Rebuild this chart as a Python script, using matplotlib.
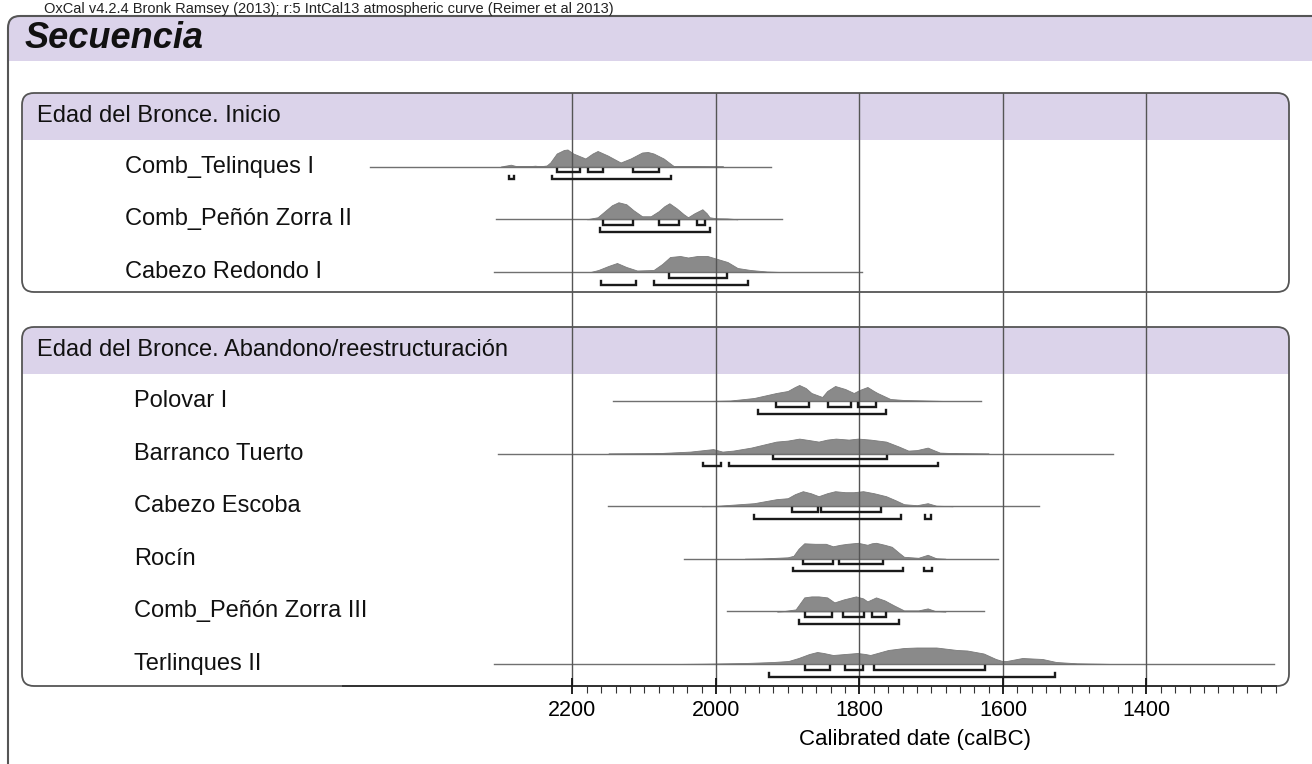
import numpy as np
import matplotlib
matplotlib.use('Agg')
import matplotlib.pyplot as plt
from matplotlib.patches import FancyBboxPatch, Rectangle

plt.rcParams['font.family'] = ['Liberation Sans', 'DejaVu Sans']

# ---- data (calBC) ----
header_text = "OxCal v4.2.4 Bronk Ramsey (2013); r:5 IntCal13 atmospheric curve (Reimer et al 2013)"
title = "Secuencia"
group_titles = ["Edad del Bronce. Inicio", "Edad del Bronce. Abandono/reestructuración"]
group_sizes = [3, 6]

row_names = ["Comb_Telinques I", "Comb_Peñón Zorra II", "Cabezo Redondo I",
             "Polovar I", "Barranco Tuerto", "Cabezo Escoba", "Rocín",
             "Comb_Peñón Zorra III", "Terlinques II"]

row_spans = [(2482, 1923), (2306, 1908), (2310, 1796),
             (2144, 1631), (2304, 1446), (2150, 1550), (2045, 1607),
             (1985, 1627), (2309, 1222)]

dens_years = [
    [2300, 2292, 2286, 2279, 2262, 2252, 2245, 2236, 2231, 2222, 2212, 2207, 2199, 2182, 2172, 2165,
     2151, 2133, 2119, 2103, 2095, 2087, 2073, 2062, 2059, 2040, 1990],
    [2180, 2165, 2155, 2145, 2136, 2125, 2115, 2103, 2091, 2080, 2072, 2065, 2055, 2045, 2039, 2030,
     2019, 2013, 2009, 2000, 1984, 1970],
    [2175, 2164, 2150, 2138, 2125, 2110, 2087, 2075, 2064, 2050, 2039, 2026, 2012, 1998, 1984, 1970,
     1952, 1929, 1910],
    [2010, 1980, 1947, 1916, 1900, 1890, 1884, 1875, 1867, 1852, 1845, 1834, 1820, 1808, 1800, 1789,
     1780, 1775, 1757, 1738, 1707, 1680],
    [2150, 2086, 2036, 2004, 1991, 1976, 1951, 1916, 1900, 1884, 1870, 1857, 1845, 1833, 1815, 1802,
     1785, 1763, 1745, 1732, 1720, 1705, 1695, 1688, 1663, 1620],
    [2020, 2001, 1947, 1916, 1900, 1890, 1879, 1868, 1857, 1845, 1834, 1820, 1808, 1795, 1780, 1763,
     1750, 1738, 1720, 1705, 1693, 1670],
    [1960, 1937, 1900, 1892, 1885, 1877, 1862, 1847, 1837, 1827, 1817, 1802, 1789, 1783, 1777, 1765,
     1755, 1745, 1738, 1718, 1705, 1693, 1680],
    [1915, 1906, 1889, 1882, 1877, 1867, 1857, 1845, 1835, 1822, 1805, 1795, 1789, 1777, 1765, 1752,
     1738, 1718, 1705, 1695, 1680],
    [2060, 2018, 1959, 1920, 1899, 1885, 1870, 1859, 1850, 1837, 1820, 1803, 1792, 1785, 1770, 1760,
     1738, 1720, 1693, 1664, 1650, 1627, 1610, 1601, 1595, 1573, 1545, 1526, 1497, 1465, 1447],
]

dens_height = [
    [0, 1, 1.8, 0.5, 0.2, 0.8, 0.2, 1, 4, 13, 16.5, 17, 13, 8, 13, 15.5,
     11, 4, 8, 14, 14.5, 13, 8, 2, 0.5, 0.2, 0],
    [0, 2, 8, 14, 17, 15, 9, 3, 3, 8, 13, 16, 11, 5, 2, 6,
     10, 6, 2, 1, 0.8, 0],
    [0, 2, 6, 9, 5, 1.5, 2, 8, 15, 16, 14.5, 16, 16, 13, 10, 4,
     2, 0.5, 0],
    [0, 0.5, 3, 8, 10, 14, 16, 13, 8, 4, 10, 15, 12, 8, 11, 14,
     10, 8, 2, 1, 0.5, 0],
    [0, 0.3, 2, 4.5, 2, 3, 6, 12, 13, 15, 13.5, 12, 14, 15, 14, 15,
     14, 12, 7, 3, 3.5, 6, 3, 1, 0.3, 0],
    [0, 0.3, 3, 7, 8, 12, 15, 13, 10, 13, 15, 14, 14, 15, 13, 10,
     6, 2, 1, 3, 0.5, 0],
    [0, 0.3, 1.5, 3, 10, 15.5, 15, 15, 12.5, 14, 15, 16, 14, 15.5, 16, 14,
     12, 6, 2, 1, 4, 0.5, 0],
    [0, 0.3, 2, 9, 14, 15, 15, 14, 9, 12, 15, 13, 10, 14, 11, 6,
     1, 1, 3, 0.5, 0],
    [0, 0.3, 1, 2, 3, 6, 10, 12, 11, 9, 10, 11, 10, 9, 12, 14,
     16, 16.5, 16.5, 14, 13.5, 10.5, 5, 3, 3, 6, 5, 2, 0.7, 0.3, 0],
]

ranges_68 = [
    [(2222, 2190), (2178, 2157), (2115, 2080)],
    [(2157, 2115), (2079, 2051), (2026, 2016)],
    [(2066, 1984)],
    [(1916, 1870), (1844, 1812), (1802, 1777)],
    [(1920, 1761)],
    [(1894, 1858), (1853, 1770)],
    [(1879, 1837), (1829, 1767)],
    [(1876, 1839), (1823, 1794), (1783, 1763)],
    [(1876, 1841), (1820, 1795), (1780, 1625)],
]

ranges_95 = [
    [(2289, 2281), (2229, 2063)],
    [(2162, 2009)],
    [(2160, 2112), (2086, 1956)],
    [(1942, 1763)],
    [(2018, 1993), (1982, 1691)],
    [(1947, 1742), (1709, 1700)],
    [(1892, 1739), (1710, 1699)],
    [(1884, 1745)],
    [(1926, 1527)],
]

major_ticks = [2200, 2000, 1800, 1600, 1400]

# ---- layout (pixels) ----
W, H = 1312, 764
LAV = '#dbd3ea'
EDGE = '#555555'
panels = [(93, 292, 140), (327, 686, 374)]   # top, bottom, header bottom
row_start = [166.5, 401]
row_step = [52.75, 52.6]
label_x = [125, 134]

fig = plt.figure(figsize=(13.12, 7.64), dpi=100)
bg = fig.add_axes([0, 0, 1, 1])
bg.set_xlim(0, W)
bg.set_ylim(H, 0)
bg.axis('off')


def rounded_panel(x0, y0, x1, y1, head_bottom, r=12, lw=1.3):
    face = FancyBboxPatch((x0, y0), x1 - x0, y1 - y0,
                          boxstyle=f"round,pad=0,rounding_size={r}",
                          facecolor='white', edgecolor='none', zorder=1)
    bg.add_patch(face)
    head = Rectangle((x0, y0), x1 - x0, head_bottom - y0, facecolor=LAV,
                     edgecolor='none', zorder=2)
    bg.add_patch(head)
    head.set_clip_path(face)
    bg.add_patch(FancyBboxPatch((x0, y0), x1 - x0, y1 - y0,
                                boxstyle=f"round,pad=0,rounding_size={r}",
                                facecolor='none', edgecolor=EDGE, lw=lw, zorder=3))


# outer frame
rounded_panel(8, 16, 1400, 900, 61, r=12, lw=1.5)
bg.text(44, 12.5, header_text, fontsize=10.5, va='baseline', ha='left', color='#222')
bg.text(25, 38.5, title, fontsize=26, fontweight='bold', fontstyle='italic',
        va='center', ha='left', color='#111')

for (top, bot, hb), gt in zip(panels, group_titles):
    rounded_panel(22, top, 1289, bot, hb)
    bg.text(37, (top + hb) / 2, gt, fontsize=17, va='center', ha='left', color='#111')

# ---- data axes ----
px_per_yr = (1146.5 - 572.5) / 800.0
x_left = 572.5 - (2520 - 2200) * px_per_yr
x_right = 572.5 + (2200 - 1220) * px_per_yr
ax_top, ax_bot = 93, 686
ax = fig.add_axes([x_left / W, 1 - ax_bot / H, (x_right - x_left) / W, (ax_bot - ax_top) / H])
ax.set_xlim(2520, 1220)
ax.set_ylim(ax_bot, ax_top)
ax.patch.set_alpha(0)

row_y = []
for g, n in enumerate(group_sizes):
    for i in range(n):
        row_y.append(row_start[g] + i * row_step[g])
row_group = [g for g, n in enumerate(group_sizes) for _ in range(n)]


def bracket(a, b, y, lift=3.5):
    ax.plot([a, a, b, b], [y - lift, y, y, y - lift], color='#1a1a1a', lw=1.7,
            solid_joinstyle='miter', zorder=4)


for k, name in enumerate(row_names):
    y = row_y[k]
    bg.text(label_x[row_group[k]], y, name, fontsize=17, va='center', ha='left', color='#111')
    ax.plot(row_spans[k], [y, y], color='#707070', lw=1.0, zorder=2)
    yrs = np.array(dens_years[k], dtype=float)
    hh = np.array(dens_height[k], dtype=float)
    ax.fill_between(yrs, y, y - hh, facecolor='#8a8a8a', edgecolor='#7a7a7a', lw=0.6, zorder=1)
    for a, b in ranges_68[k]:
        bracket(a, b, y + 5.5)
    for a, b in ranges_95[k]:
        bracket(a, b, y + 12.5)

# axis
for s in ['top', 'left', 'right']:
    ax.spines[s].set_visible(False)
ax.spines['bottom'].set_color('#333333')
ax.spines['bottom'].set_linewidth(1.4)
ax.set_xticks(major_ticks)
ax.set_xticks(np.arange(2200, 1219, -20), minor=True)
ax.set_xticklabels([str(t) for t in major_ticks])
ax.set_yticks([])
ax.tick_params(axis='x', which='major', direction='inout', length=11.5, width=1.3,
               labelsize=15.5, pad=4, color='#111')
ax.tick_params(axis='x', which='minor', direction='out', length=5, width=0.8, color='#333')
ax.grid(axis='x', which='major', color='#555555', lw=1.0)
ax.set_axisbelow(False)
ax.set_xlabel('Calibrated date (calBC)', fontsize=16)
ax.xaxis.set_label_coords((915 - x_left) / (x_right - x_left), (ax_bot - 729) / (ax_bot - ax_top))

fig.savefig('out.png', dpi=100)
